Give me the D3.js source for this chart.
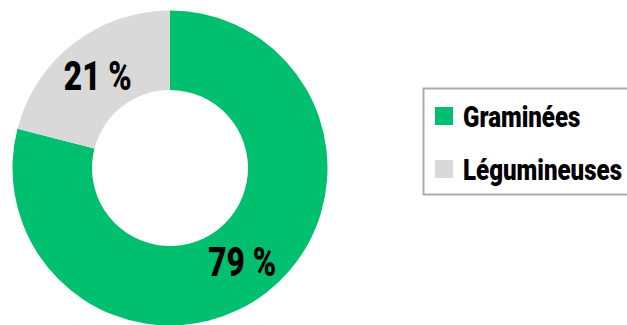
<!DOCTYPE html>
<html>
<head>
<meta charset="utf-8">
<script src="https://cdn.jsdelivr.net/npm/d3@7"></script>
<style>
  html, body { margin: 0; padding: 0; background: #fff; }
  svg { display: block; }
  text { font-family: "Roboto", "Liberation Sans", sans-serif; font-weight: 900; fill: #000; }
</style>
</head>
<body>
<svg id="chart" width="627" height="325"></svg>
<script>
const categories = ["Graminées", "Légumineuses"];
const values = [79, 21];
const colors = ["#00BF6F", "#D9D9D9"];

const svg = d3.select("#chart");
const cx = 170, cy = 168, outerR = 157.5, innerR = 78;

const pie = d3.pie().sort(null).value(d => d.value);
const arc = d3.arc().innerRadius(innerR).outerRadius(outerR);
const data = categories.map((c, i) => ({ name: c, value: values[i], color: colors[i] }));
const arcs = pie(data);

const g = svg.append("g").attr("transform", `translate(${cx},${cy})`);
g.selectAll("path").data(arcs).join("path")
  .attr("d", arc)
  .attr("fill", d => d.data.color);

// Condensed bold text: squeeze the face horizontally so the widest label fits maxWidth
function condense(sel, maxWidth) {
  let widest = 0;
  sel.each(function () { widest = Math.max(widest, this.getComputedTextLength()); });
  const sx = Math.min(1, maxWidth / widest);
  sel.each(function () {
    const t = d3.select(this);
    const x = +t.attr("x") || 0, y = +t.attr("y") || 0;
    const anchor = t.attr("text-anchor");
    t.attr("transform", `translate(${x},${y}) scale(${sx},1) translate(${-x},${-y})`);
  });
}

g.selectAll("text.val").data(arcs).join("text")
  .attr("class", "val")
  .attr("x", d => arc.centroid(d)[0])
  .attr("y", d => arc.centroid(d)[1] + 15)
  .attr("text-anchor", "middle")
  .style("font-size", "41px")
  .text(d => `${d.data.value} %`)
  .call(condense, 68);

// Legend
const lg = svg.append("g");
lg.append("rect")
  .attr("x", 423.5).attr("y", 88.5)
  .attr("width", 220).attr("height", 106)
  .attr("fill", "#fff").attr("stroke", "#ABABAB").attr("stroke-width", 2);

const items = lg.selectAll("g.item").data(data).join("g")
  .attr("class", "item")
  .attr("transform", (d, i) => `translate(435,${107 + i * 53})`);
items.append("rect")
  .attr("width", 18).attr("height", 18)
  .attr("fill", d => d.color);
items.append("text")
  .attr("x", 28).attr("y", 19.5)
  .style("font-size", "29.5px")
  .text(d => d.name);
items.selectAll("text").call(condense, 159);
lg.selectAll("text").call(condense, 159);
</script>
</body>
</html>
